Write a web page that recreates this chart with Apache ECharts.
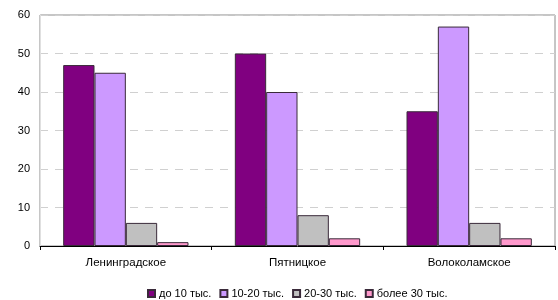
<!DOCTYPE html>
<html>
<head>
<meta charset="utf-8">
<script src="https://cdn.jsdelivr.net/npm/echarts@6/dist/echarts.min.js"></script>
<style>
  html, body { margin: 0; padding: 0; background: #fff; }
  #chart { width: 558px; height: 300px; }
</style>
</head>
<body>
<div id="chart"></div>
<script>
const categories = ['Ленинградское', 'Пятницкое', 'Волоколамское'];
const seriesNames = ['до 10 тыс.', '10-20 тыс.', '20-30 тыс.', 'более 30 тыс.'];
const upTo10 = [47, 50, 35];
const from10to20 = [45, 40, 57];
const from20to30 = [6, 8, 6];
const over30 = [1, 2, 2];
const colors = ['#800080', '#CC99FF', '#C0C0C0', '#FF99CC'];

const values = [upTo10, from10to20, from20to30, over30];
const font = 'Liberation Sans, Arial, sans-serif';

let myChart = echarts.init(document.getElementById('chart'));

let option = {
  animation: false,
  textStyle: { fontFamily: font },
  grid: {
    left: 40,
    right: 3,
    top: 15,
    bottom: 54,
    show: true,
    borderColor: '#8c8c8c',
    borderWidth: 1
  },
  legend: {
    top: 288,
    padding: 0,
    left: 147,
    itemWidth: 7,
    itemHeight: 7,
    itemGap: 8,
    icon: 'rect',
    textStyle: { fontSize: 11, color: '#000', fontFamily: font, padding: [0, 0, 0, -1] },
    data: seriesNames
  },
  xAxis: {
    type: 'category',
    data: categories,
    axisLine: { lineStyle: { color: '#000', width: 1 } },
    axisTick: { show: true, length: 4, lineStyle: { color: '#000' } },
    axisLabel: { fontSize: 11.5, color: '#000', margin: 11, fontFamily: font }
  },
  yAxis: {
    type: 'value',
    min: 0,
    max: 60,
    interval: 10,
    axisLine: { show: true, lineStyle: { color: '#e0e0e0' } },
    axisTick: { show: false },
    axisLabel: { fontSize: 11, color: '#000', margin: 10, fontFamily: font },
    splitLine: {
      show: true,
      lineStyle: { color: '#d0d0d0', type: [8, 7], width: 1 }
    }
  },
  series: seriesNames.map((name, i) => {
    return {
      name: name,
      type: 'bar',
      data: values[i],
      barGap: '0%',
      barCategoryGap: '27%',
      itemStyle: {
        color: colors[i],
        borderColor: '#3a2a3a',
        borderWidth: 1
      }
    }
  })
};

option && myChart.setOption(option);
</script>
</body>
</html>
